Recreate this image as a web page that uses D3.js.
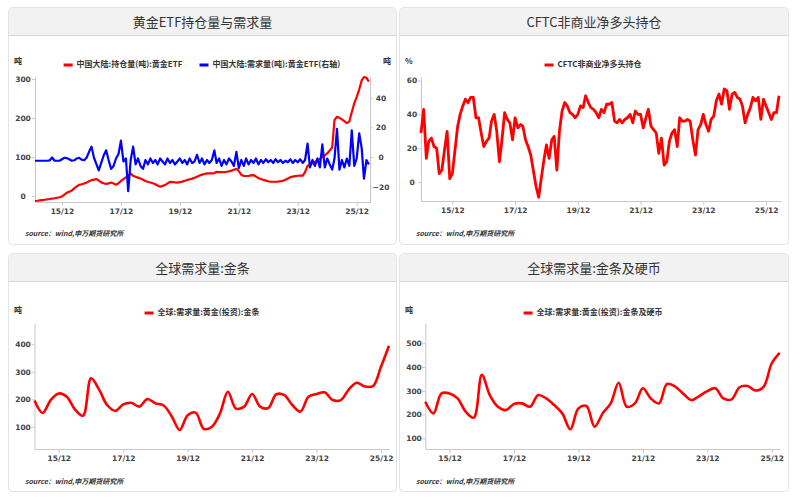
<!DOCTYPE html>
<html>
<head>
<meta charset="utf-8">
<script src="https://cdn.jsdelivr.net/npm/d3@7"></script>
<style>
body { margin: 0; background: #fff; }
svg text { font-family: "Noto Sans CJK SC", "Noto Sans", sans-serif; }
.tick text, .num { font-family: "DejaVu Sans", sans-serif; }
</style>
</head>
<body>
<svg id="c" width="796" height="499"></svg>
<script>
// ---- data ----
// 中国大陆 黄金ETF 持仓量 (吨), monthly from 2015-01
var etfHold = [-12.5,-11.8,-10.8,-10,-9.2,-8.2,-7.4,-6.4,-5.4,-4.1,
  -2.8,-0.8,4,9,11.5,14.3,19.7,24.8,28.9,30.5,
  32.3,34.6,37.9,41,42.5,43.5,40,35.3,33,31.5,
  32.5,34.8,32.3,29.4,32.8,38.9,43.8,47.9,52.7,57.6,
  52,49.4,47.4,45,42,38.7,36.1,34.8,33,30.5,
  27.1,24.1,26.4,28.4,32.5,36.6,36.1,35.1,34.6,35.8,
  37.1,39.4,41.5,43,44.8,46.9,49.9,53,55,56.6,
  58.4,58.4,58.4,59.1,62.2,61.7,61.5,61.2,62.5,63.5,
  65.3,67.6,69.9,64.3,54.5,51.5,51.5,52,53,54,
  50.2,46.1,43.8,41.5,39.7,38.1,36.9,36.9,36.9,37.1,
  38.1,39.2,41.7,45.3,48.6,49.9,51.2,52.2,52.5,52.7,
  61.7,77.3,80.9,84.2,87.8,91.4,95.8,100.1,104.5,109.3,
  117.3,125.2,195,203,200.5,196.6,191.8,187.1,191.2,215,
  237.8,253.7,272.9,296.2,305,303,293.4];

// 中国大陆 黄金ETF 需求量 (吨, 右轴), monthly from 2015-01
var etfDemand = [-2.5,-2.5,-2.5,-2.5,-2.5,-2.5,-2.3,-0.3,-2.5,-2.5,
  -2.5,-1.5,-0.5,-0.8,-1.5,-2.5,-2.2,-1,-0.5,-1.8,
  -2.2,-0.5,3.5,7,-0.5,-5,-9,-4,1,4.5,
  -2,-8,-6,-1,2,11,-3,-1,-23,-2,
  7,-5,-1,-6,-8,-2,-5,-1,-4,-2,
  -5,-1,-3,-5,-1,-4,-2,-5,-3,-1,
  -4,-2,-5,-1,-4,-3,1.5,-4,-1,-5,
  -2,-4,-2,4.5,-4,-1,-6,-2,-5,-1,
  -3,-6,3.5,-7.5,-2,-6,-1,-5,-2,-4,
  -1,-5,-2,-4,-1.5,-3.5,-2,-4,-1.5,-3.5,
  -2,-4,-2.5,-3.5,-1.5,-4,-2,-3.5,-1.5,-4,
  -2,9,-7,-2,-6,-1,-7,8.5,-7,-1,
  -5,-8.5,-1,19,-8.5,-2,-7,-1,-6,18,
  -6,-1,16,6,-14.5,-2,-5];

// CFTC 非商业净多头持仓 (%), monthly from 2014-12
var cftcNet = [29,43,14,24,26,21,20,5,7,19,
  30,2,5,19,33,40,45,49,47,50,
  50,38,38,29,21,24,26,36,40,30,
  12,25,41,37,35,25,38,32,34,33,
  25,21,16,7,-2.5,-9,2,13,22,14,
  25,27,7,30,42,47,45,41,40,38,
  40,45,44,51,47,44,43,41,38,43,
  41,46,46,47,36,35,37,35,37,38,
  40,35,42,40,40,32,38,43,33,31,
  29,17,26,10,12,24,29,31,21,38,
  36,36,37,36,25,16,31,34,40,34,
  30,37,39,48,52,46,55,54,43,52,
  53,50,49,45,35,40,44,50,48,50,
  37,49,45,41,37,41,41,51];

// 全球需求量 黄金(投资) 金条 (吨), quarterly from 2015Q1
var barDemand = [195,150,197,221,209,163,140,276,236,179,
  158,181,187,173,201,185,178,139,88,142,
  151,92,100,148,227,166,173,219,173,168,
  218,215,179,155,209,219,225,197,197,236,
  260,246,248,319,395];

// 全球需求量 黄金(投资) 金条及硬币 (吨), quarterly from 2015Q1
var barCoinDemand = [254,205,289,289,268,212,187,367,282,233,
  219,245,247,233,282,268,240,205,138,226,
  236,149,205,247,334,233,247,311,268,247,
  329,318,289,261,278,299,311,268,264,315,
  320,301,318,416,460];

var xTickDates = ["2015-12-01", "2017-12-01", "2019-12-01", "2021-12-01", "2023-12-01", "2025-12-01"];
var etfLeftTicks = [0, 100, 200, 300];
var etfRightTicks = [-20, 0, 20, 40];
var cftcTicks = [0, 20, 40, 60];
var barTicks = [100, 200, 300, 400];
var barCoinTicks = [100, 200, 300, 400, 500];

// ---- helpers ----
var parse = d3.timeParse("%Y-%m-%d");
var fmt = d3.timeFormat("%y/%m");
var svg = d3.select("#c");

function monthly(start, n, step) {
    return d3.range(n).map(function (i) { return d3.timeMonth.offset(parse(start), i * (step || 1)); });
}

function panel(x, y, w, h, title) {
    svg.append("rect")
        .attr("x", x + 0.5).attr("y", y + 0.5)
        .attr("width", w).attr("height", h)
        .attr("rx", 4)
        .attr("fill", "#fff").attr("stroke", "#e3e3e3");
    svg.append("path")
        .attr("d", "M" + (x + 1) + "," + (y + 28) + "V" + (y + 5) + "Q" + (x + 1) + "," + (y + 1) + " " + (x + 5) + "," + (y + 1) +
            "H" + (x + w - 4) + "Q" + (x + w) + "," + (y + 1) + " " + (x + w) + "," + (y + 5) + "V" + (y + 28) + "Z")
        .attr("fill", "#f2f2f2");
    svg.append("line")
        .attr("x1", x + 1).attr("x2", x + w)
        .attr("y1", y + 28.5).attr("y2", y + 28.5)
        .attr("stroke", "#d6d6d6");
    svg.append("text")
        .attr("x", x + w / 2 + 0.5).attr("y", y + 16)
        .attr("text-anchor", "middle").attr("dominant-baseline", "middle")
        .style("font-size", "13px").attr("fill", "#333")
        .text(title);
}

function smallText(x, y, t, anchor) {
    return svg.append("text")
        .attr("x", x).attr("y", y)
        .attr("text-anchor", anchor || "start").attr("dominant-baseline", "middle")
        .style("font-size", "8px").style("font-weight", "bold").attr("fill", "#333")
        .text(t);
}

function legend(cx, y, items) {
    var g = svg.append("g");
    var pos = 0;
    items.forEach(function (it, i) {
        if (i > 0) pos += 17;
        g.append("line").attr("x1", pos).attr("x2", pos + 9).attr("y1", y).attr("y2", y)
            .attr("stroke", it.color).attr("stroke-width", 3);
        var t = g.append("text").attr("x", pos + 13).attr("y", y)
            .attr("dominant-baseline", "middle")
            .style("font-size", "8px").style("font-weight", "bold").attr("fill", "#333")
            .text(it.name);
        pos += 13 + t.node().getComputedTextLength();
    });
    g.attr("transform", "translate(" + (cx - pos / 2) + ",0)");
}

function source(x, y) {
    svg.append("text")
        .attr("x", x).attr("y", y)
        .attr("dominant-baseline", "middle")
        .style("font-size", "7px").style("font-style", "italic").style("font-weight", "bold")
        .attr("fill", "#333")
        .text("source：wind,申万期货研究所");
}

function xAxis(x, bottom) {
    var g = svg.append("g").attr("transform", "translate(0," + bottom + ")")
        .call(d3.axisBottom(x).tickValues(xTickDates.map(parse)).tickFormat(fmt).tickSize(4).tickSizeOuter(0));
    g.select(".domain").attr("stroke", "#c8c8c8");
    g.selectAll(".tick line").attr("stroke", "#c8c8c8");
    g.selectAll(".tick text").attr("fill", "#444").style("font-size", "7.5px").style("font-weight", "bold")
        .attr("y", 10).attr("dy", "0.32em");
}

function yAxis(y, at, ticks, labelX, side) {
    var ax = side === "right" ? d3.axisRight(y) : d3.axisLeft(y);
    var g = svg.append("g").attr("transform", "translate(" + at + ",0)")
        .call(ax.tickValues(ticks).tickSize(3).tickSizeOuter(0));
    g.select(".domain").attr("stroke", "#c8c8c8");
    g.selectAll(".tick line").attr("stroke", "#c8c8c8");
    g.selectAll(".tick text").attr("fill", "#444").style("font-size", "7.5px").style("font-weight", "bold")
        .attr("text-anchor", "middle").attr("x", labelX - at);
}

function drawLine(x, y, dates, values, color, width, curve) {
    var line = d3.line()
        .x(function (d, i) { return x(dates[i]); })
        .y(function (d) { return y(d); });
    if (curve) line.curve(curve);
    svg.append("path").datum(values)
        .attr("d", line)
        .attr("fill", "none").attr("stroke", color)
        .attr("stroke-width", width).attr("stroke-linejoin", "round");
}

// ---- panels ----
panel(8, 7, 388, 237, "黄金ETF持仓量与需求量");
panel(399, 7, 389, 237, "CFTC非商业净多头持仓");
panel(8, 253, 388, 238, "全球需求量:金条");
panel(399, 253, 389, 238, "全球需求量:金条及硬币");

// ---- chart 1: ETF ----
(function () {
    var dates = monthly("2015-01-01", etfHold.length);
    var x = d3.scaleTime().domain([parse("2015-01-01"), parse("2026-05-15")]).range([35, 370]);
    var yL = d3.scaleLinear().domain([-15, 305]).range([202, 77]);
    var yR = d3.scaleLinear().domain([-30.3, 53.9]).range([202, 77]);
    xAxis(x, 202);
    yAxis(yL, 35, etfLeftTicks, 23, "left");
    yAxis(yR, 370, etfRightTicks, 381, "right");
    drawLine(x, yL, dates, etfHold, "#ff0000", 2.2);
    drawLine(x, yR, dates, etfDemand, "#0000ff", 2.2);
    smallText(14, 62, "吨");
    smallText(383, 62, "吨");
    legend(202, 65, [
        { name: "中国大陆:持仓量(吨):黄金ETF", color: "#ff0000" },
        { name: "中国大陆:需求量(吨):黄金ETF(右轴)", color: "#0000ff" }
    ]);
    source(25, 234);
})();

// ---- chart 2: CFTC ----
(function () {
    var dates = monthly("2014-12-01", cftcNet.length);
    var x = d3.scaleTime().domain([parse("2014-12-01"), parse("2026-05-24")]).range([421, 781]);
    var y = d3.scaleLinear().domain([-11.2, 62.1]).range([201, 77]);
    xAxis(x, 201);
    yAxis(y, 421, cftcTicks, 412, "left");
    drawLine(x, y, dates, cftcNet, "#ff0000", 2.8);
    smallText(405, 62, "%");
    legend(593, 65, [{ name: "CFTC非商业净多头持仓", color: "#ff0000" }]);
    source(416, 234);
})();

// ---- chart 3: 金条 ----
(function () {
    var dates = monthly("2015-03-01", barDemand.length, 3);
    var x = d3.scaleTime().domain(d3.extent(dates)).range([34.5, 389]);
    var y = d3.scaleLinear().domain([18.7, 477.6]).range([449, 323]);
    xAxis(x, 449);
    yAxis(y, 34.5, barTicks, 23, "left");
    drawLine(x, y, dates, barDemand, "#ff0000", 2.6, d3.curveCatmullRom.alpha(0.5));
    smallText(14, 311, "吨");
    legend(202, 313, [{ name: "全球:需求量:黄金(投资):金条", color: "#ff0000" }]);
    source(25, 482);
})();

// ---- chart 4: 金条及硬币 ----
(function () {
    var dates = monthly("2015-03-01", barCoinDemand.length, 3);
    var x = d3.scaleTime().domain(d3.extent(dates)).range([425.3, 779.7]);
    var y = d3.scaleLinear().domain([55, 585.5]).range([449, 323]);
    xAxis(x, 449);
    yAxis(y, 425.3, barCoinTicks, 414, "left");
    drawLine(x, y, dates, barCoinDemand, "#ff0000", 2.6, d3.curveCatmullRom.alpha(0.5));
    smallText(405, 311, "吨");
    legend(593, 313, [{ name: "全球:需求量:黄金(投资):金条及硬币", color: "#ff0000" }]);
    source(416, 482);
})();
</script>
</body>
</html>
